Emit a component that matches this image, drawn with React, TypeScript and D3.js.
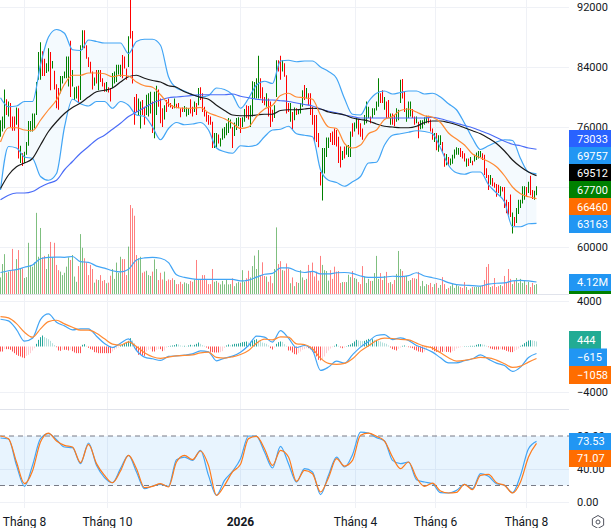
import React, { useEffect, useRef } from 'react';
import * as d3 from 'd3';

const WIDTH = 611;
const HEIGHT = 528;
const PLOT_RIGHT = 569;
const FONT = 'Roboto, sans-serif';

// Daily bars, prices in thousands
const highs = [
  76.9,77.4,81.0,79.7,79.4,79.2,77.4,77.4,78.6,78.5,73.5,72.5,72.7,74.0,76.8,76.8,77.8,77.8,82.0,86.0,
  87.3,86.1,85.1,84.5,86.5,86.0,84.8,83.5,81.7,81.2,82.8,82.8,83.4,85.4,85.4,87.5,83.6,81.3,81.4,81.5,
  86.9,88.9,88.9,86.9,85.3,84.7,83.4,82.6,83.6,83.6,83.6,82.5,81.9,82.0,81.3,81.2,83.2,83.4,84.3,84.3,
  84.3,85.6,85.4,83.8,88.1,93.5,88.8,80.0,80.4,79.8,79.4,79.6,78.7,80.3,80.5,80.7,79.4,80.7,81.5,81.0,
  79.8,78.5,78.9,79.6,79.8,79.2,78.9,79.8,79.1,79.2,78.5,78.6,78.8,78.6,78.5,79.7,78.7,79.4,79.2,81.2,
  81.3,80.5,78.7,78.0,77.6,77.4,76.7,75.2,75.2,75.0,74.5,75.8,76.0,76.5,77.2,77.0,76.0,76.6,77.2,77.3,
  77.2,77.3,78.4,78.9,78.8,78.9,82.1,82.0,82.5,85.5,82.5,81.3,80.0,80.5,79.8,79.4,78.3,78.9,84.9,84.9,
  85.5,84.9,84.5,82.9,79.2,79.2,78.0,78.6,78.5,78.3,79.2,80.9,81.6,81.2,80.5,80.5,78.7,77.6,77.6,75.2,
  70.0,73.2,73.2,74.6,74.6,75.2,75.4,75.8,75.6,74.7,73.4,72.8,73.4,73.5,73.6,75.4,76.5,76.6,77.2,77.0,
  76.5,75.8,77.6,79.4,78.7,77.4,78.5,78.5,79.4,82.5,80.5,80.9,80.0,79.4,79.6,77.8,77.8,77.6,78.5,78.3,
  82.3,82.4,80.7,78.5,79.4,79.4,78.4,77.4,77.4,76.7,76.9,76.9,77.3,77.5,77.5,77.0,75.8,75.2,75.2,74.9,
  74.9,74.0,72.5,72.4,72.0,71.8,72.3,73.0,73.3,73.2,73.2,72.8,72.5,71.8,71.8,72.0,71.5,72.3,72.6,72.8,
  72.8,72.5,72.3,70.5,69.6,69.6,69.2,68.6,68.4,68.3,68.1,68.0,68.0,66.3,66.0,67.0,64.6,64.0,65.2,66.3,
  66.3,68.1,68.1,68.0,68.7,69.5,67.6,67.5,68.1,
];
const lows = [
  74.7,75.4,75.8,77.6,77.4,76.0,75.5,75.5,76.3,71.8,71.2,70.8,71.2,72.3,73.5,75.4,75.4,75.8,77.6,82.3,
  82.3,82.8,82.8,83.2,83.4,80.9,83.8,81.0,78.5,78.3,80.5,81.8,82.5,82.5,81.4,80.0,81.4,79.6,79.8,79.2,
  79.6,86.3,86.5,85.1,84.0,83.2,81.0,81.5,81.8,80.9,82.0,81.4,80.7,80.7,80.6,79.4,81.2,81.8,82.0,83.0,
  82.7,82.5,83.8,82.3,84.0,87.8,81.8,76.3,78.0,77.6,75.8,77.6,76.3,77.6,77.4,77.8,75.2,74.5,77.6,78.7,
  76.5,76.0,77.0,78.0,78.7,78.6,78.4,78.5,78.5,78.5,77.3,78.0,78.0,77.4,77.6,77.8,77.4,78.0,77.6,78.9,
  79.6,78.0,77.4,76.7,76.3,76.3,73.2,73.2,73.2,73.8,73.4,74.3,74.5,74.9,75.2,75.8,73.2,74.8,75.6,76.1,
  75.2,76.0,76.7,77.2,77.0,76.0,77.4,79.8,79.8,79.8,79.8,79.2,78.9,78.7,77.4,76.0,76.7,77.2,80.0,83.4,
  82.3,83.4,82.7,77.8,78.0,76.7,75.7,76.9,77.6,77.7,77.8,78.7,79.6,79.8,78.9,77.6,76.3,74.0,74.0,73.3,
  68.2,66.2,69.8,72.0,73.2,74.0,73.6,73.6,73.4,71.2,70.6,71.6,71.8,72.3,72.0,72.0,74.7,75.4,75.8,75.0,
  74.7,74.3,76.3,76.5,77.2,76.5,77.2,77.6,78.2,78.7,79.2,79.2,78.3,77.2,77.2,76.3,76.3,76.1,76.7,76.9,
  79.2,79.8,78.0,76.7,77.2,77.4,77.2,76.3,76.5,74.5,75.7,75.8,76.3,76.5,76.5,75.4,74.3,74.0,72.9,72.7,
  73.6,72.7,70.7,70.9,70.9,70.9,71.1,71.8,72.3,72.3,72.0,71.8,71.4,70.7,70.8,71.2,70.9,71.4,71.6,71.8,
  72.0,71.6,69.6,69.2,67.6,68.3,68.1,67.9,66.7,67.2,66.7,67.4,65.2,64.5,64.3,64.0,61.8,62.8,63.2,64.4,
  65.2,65.8,66.3,66.7,67.2,66.9,66.4,66.3,66.9,
];
const barDirs =
  'GGGRGRRRGR' + 'GRGGGGGGGG' + 'GRRGGRGRRR' + 'GGGGGRGGGR' + 'GGRRRRRGRG' + 'RRRGRRGGGG' + 'GRRRGRRRRG' +
  'GRRGGGRGGR' + 'RRGRRRRGRR' + 'RRGGGRRGRG' + 'RRRRRRRGGR' + 'GGGGGGRGGG' + 'RGGRRGGGGG' + 'RRRGRRRGGR' +
  'RGRRRGRGRG' + 'GGRGRRRRRR' + 'RGGGGRRRRR' + 'RGRGGGRGGR' + 'RRGGGRGGGG' + 'RRGRRGRRGG' + 'GRRGGGRRGR' +
  'GGGGRRRGRG' + 'GRRGRGGGGG' + 'RRRGRGRGGG' + 'GRRRRGRRRR' + 'GRRRRRGRGG' + 'GGGRGRRGG';

// Volume in millions
const volumes = [
  5.7,10.3,13.7,7.3,7.7,7.9,15.5,8.2,12.0,15.1,8.8,8.8,5.5,5.8,17.6,10.0,9.4,10.9,27.9,12.8,
  22.7,12.6,13.1,8.6,13.7,17.9,12.6,17.6,10.0,8.2,7.7,6.5,7.3,9.4,12.6,11.7,13.4,6.0,4.2,9.6,
  20.6,15.9,12.3,10.8,6.5,10.0,8.6,3.9,5.0,4.8,6.5,4.5,4.8,3.7,3.9,6.3,8.6,5.2,10.8,7.3,
  12.8,12.0,12.0,6.5,16.3,30.6,29.5,26.9,13.4,12.3,12.8,7.3,7.7,8.0,6.5,6.2,7.7,11.9,8.6,4.8,
  7.3,5.0,7.7,4.5,5.0,4.8,5.4,4.8,3.4,3.4,4.2,3.4,4.0,3.7,3.4,4.5,4.2,5.0,11.7,5.0,
  5.0,6.5,6.5,4.8,3.4,3.4,8.6,4.2,4.5,3.9,3.3,4.5,3.3,5.0,3.3,3.4,5.4,2.7,3.7,4.2,
  3.9,8.2,4.2,5.4,8.0,5.7,9.6,13.2,8.6,15.1,6.5,10.9,6.2,6.0,4.2,6.2,3.7,8.6,22.9,10.3,
  11.3,8.2,8.0,10.5,8.8,3.7,5.7,2.7,4.1,3.8,8.2,5.7,4.8,5.2,10.0,7.7,10.8,6.0,7.7,4.6,
  13.1,10.0,8.2,7.9,4.6,8.2,5.2,9.4,7.7,7.9,3.8,4.1,4.1,4.1,6.6,5.8,7.9,5.5,5.2,4.1,
  3.4,9.6,6.0,3.8,5.2,4.5,4.5,7.2,13.1,5.2,7.2,4.8,6.2,7.6,3.8,4.1,3.4,4.8,6.9,14.8,
  8.6,7.9,6.2,6.2,4.5,4.8,5.5,5.4,5.2,7.6,2.7,4.5,2.7,3.4,3.1,3.8,2.4,3.4,3.8,2.1,
  3.1,5.8,3.4,1.7,2.1,2.7,3.4,2.1,3.1,2.7,2.4,2.1,4.1,2.4,1.4,1.9,2.4,2.4,2.4,2.4,
  2.7,3.1,4.8,9.3,10.3,2.4,2.7,5.5,2.4,2.7,3.1,2.7,6.2,4.1,8.6,5.2,3.4,4.5,5.5,3.8,
  5.2,3.8,4.5,3.1,4.2,2.4,3.8,3.1,3.4,
];

// Indicator lines
const LINE_STEP = 4;
const bbUpper = [
  79.9,78.7,78.8,79.4,79.4,84.3,88.0,89.0,88.5,86.3,86.2,87.6,87.4,87.2,87.2,87.2,85.8,87.4,87.7,87.7,86.9,82.7,81.2,80.8,80.3,
  80.0,80.2,81.2,81.0,80.3,78.5,79.8,81.6,82.1,81.8,84.8,84.9,84.7,84.8,84.8,84.0,83.4,82.5,79.8,77.7,77.6,79.4,80.5,80.8,
  80.4,80.6,80.8,80.8,80.4,80.5,80.0,79.1,78.3,76.5,74.5,73.0,73.5,74.0,74.3,74.2,71.8,70.0,69.76,
];
const bbLower = [
  67.6,73.4,73.2,72.0,71.8,69.4,68.9,69.8,76.0,79.7,79.1,78.8,79.4,79.4,78.5,79.4,78.9,77.6,77.4,76.0,74.3,75.8,76.6,76.3,76.4,
  76.6,75.6,73.2,72.7,72.5,73.5,73.4,73.6,74.7,75.6,75.7,76.1,75.1,74.9,74.7,70.3,68.9,68.6,68.1,68.7,69.4,71.2,71.3,73.6,
  74.9,75.1,75.3,75.5,75.4,75.1,73.2,70.9,69.9,69.7,70.0,70.0,68.3,67.2,66.0,62.7,62.7,63.1,63.16,
];
const maOrange = [
  74.0,75.9,75.9,75.6,75.5,76.9,78.3,79.6,81.7,82.9,82.9,83.2,83.2,83.1,82.7,82.9,82.8,82.0,81.5,81.3,80.3,79.1,78.6,78.5,78.5,
  78.6,77.9,77.5,77.1,76.5,75.8,76.0,77.4,78.4,78.9,80.2,80.5,80.0,79.9,79.7,77.6,76.0,75.8,73.8,73.2,73.6,75.1,75.6,77.0,
  77.4,78.2,78.4,78.0,77.5,77.3,76.6,75.2,74.4,73.6,72.4,71.9,71.4,70.7,69.5,68.0,67.1,66.7,66.46,
];
const maBlack = [
  67.8,69.6,70.7,71.2,71.8,73.6,75.4,76.7,77.8,78.6,79.2,80.0,80.7,80.9,81.2,82.0,82.7,82.9,82.5,82.2,82.0,81.5,81.3,80.7,80.3,
  79.95,79.7,78.9,78.2,77.6,77.5,77.5,77.6,77.7,77.7,78.2,78.3,78.3,78.4,78.5,78.4,78.0,77.8,77.6,77.2,77.0,76.8,76.4,76.1,
  76.0,75.9,75.9,76.1,76.6,76.8,76.8,76.6,76.3,75.9,75.5,75.1,74.5,73.8,72.8,71.6,70.7,70.0,69.51,
];
const maBlue = [
  66.3,66.9,67.2,67.2,67.4,68.0,68.5,68.9,70.3,71.4,72.5,73.4,74.3,74.9,75.7,76.5,77.4,78.0,78.6,79.2,79.6,79.9,80.0,80.1,80.2,
  80.3,80.3,80.3,80.3,80.4,80.1,79.9,79.7,79.6,79.6,79.5,79.4,79.2,79.0,78.8,78.4,78.1,77.9,77.6,77.4,77.2,77.2,77.2,77.2,
  77.2,77.2,77.2,77.2,77.2,77.3,77.1,76.8,76.5,76.2,75.9,75.5,75.1,74.6,74.1,73.7,73.5,73.2,73.03,
];
const volumeMa = [
  7.4,8.0,8.4,9.2,10.0,12.1,12.6,12.7,12.6,12.9,11.1,10.9,9.6,8.9,8.0,7.6,8.5,11.7,12.4,12.6,12.3,10.8,6.6,5.7,5.2,5.0,5.0,5.0,5.0,5.0,4.5,4.8,5.8,6.8,7.1,9.0,9.0,7.9,
  7.4,7.8,6.9,6.9,7.3,7.4,7.1,6.2,5.7,5.7,5.8,6.1,6.0,6.3,7.3,6.2,5.6,5.0,3.9,3.2,3.0,2.9,2.7,3.4,3.7,3.8,4.5,4.7,4.5,4.12,
];
const macdLine = [
  2394,2248,1489,467,730,2365,2862,2132,1810,1460,1548,1548,905,263,-88,292,672,-350,-934,-1080,-1226,-876,-818,-759,-642,-380,-467,-1256,-1022,-847,-496,88,905,818,380,1402,730,-88,
  88,-350,-2102,-1810,-1285,-1460,-730,-58,438,964,1051,613,759,526,88,-175,-496,-993,-1431,-1431,-1256,-1080,-730,-1110,-1460,-1664,-2190,-1810,-964,-615,
];
const signalLine = [
  2628,2511,2015,1256,818,1548,2190,2307,1986,1694,1431,1431,1168,672,204,117,409,0,-555,-905,-1051,-934,-818,-788,-730,-555,-496,-964,-1022,-905,-700,-350,292,642,584,847,818,234,
  175,-204,-1022,-1489,-1577,-1489,-1080,-409,58,526,730,701,613,584,292,29,-146,-555,-993,-1285,-1226,-1080,-964,-993,-1197,-1518,-1840,-1723,-1372,-1058,
];
const macdHist = [
  -440,-440,-235,-235,-235,-290,-440,-585,-730,-820,-875,-965,-1020,-820,-730,-585,-350,-150,235,585,
  820,965,820,730,640,495,290,120,-60,-350,-380,-290,-290,-290,-350,-290,-410,-525,-585,-585,
  -585,150,205,60,-120,-235,-290,-495,-525,-585,-585,-585,-585,-585,-585,-585,-440,-290,-175,-90,
  90,150,290,350,495,730,525,290,-350,-730,-730,-790,-820,-440,-290,-235,-440,-440,-290,-235,
  -235,-410,-350,-90,30,60,90,120,205,175,90,60,60,30,90,150,120,150,235,350,
  235,120,60,-90,-205,-470,-495,-525,-525,-525,-495,-410,-120,90,175,120,175,235,235,265,
  320,380,410,440,350,410,525,585,640,525,470,350,290,235,90,-150,-265,-90,235,380,
  440,410,205,60,-350,-350,-525,-670,-700,-585,-440,-290,-235,-150,-150,-235,-440,-585,-875,-1170,
  -1225,-1110,-875,-585,-350,-175,-60,60,205,60,-90,-150,-90,30,120,175,290,440,585,525,
  495,470,495,585,670,585,640,585,585,495,440,350,290,235,90,-90,-235,-290,-350,-205,
  -90,60,90,30,-60,-90,-150,-290,-350,-440,-470,-525,-440,-235,-90,-90,-290,-410,-470,-410,
  -470,-470,-440,-470,-470,-525,-410,-380,-175,-120,-60,-30,30,30,30,60,60,60,150,205,
  205,175,150,60,-60,-175,-235,-265,-265,-265,-235,-265,-290,-380,-440,-495,-495,-410,-290,-175,
  60,150,290,410,525,555,525,495,444,
];
const stochK = [
  77.6,76.4,44.4,19.0,44.4,76.8,82.8,75.5,66.7,65.9,46.5,71.5,44.4,29.5,23.4,40.4,56.6,36.4,16.2,19.4,21.4,19.0,51.3,54.5,50.5,62.6,32.3,8.1,26.3,37.2,52.5,80.0,79.6,60.6,41.2,67.5,46.5,24.2,
  40.4,36.4,8.9,32.3,54.5,42.4,57.4,84.8,83.6,78.0,73.9,50.5,46.5,48.5,27.1,24.2,22.2,11.3,10.9,14.1,21.4,16.2,34.3,31.1,22.2,20.2,11.3,32.3,64.6,73.53,
];
const stochD = [
  80.0,76.8,48.5,22.2,37.6,72.7,83.6,73.9,68.7,66.7,47.7,69.9,46.5,32.3,23.4,37.6,56.6,40.4,17.4,19.0,22.2,18.2,48.5,56.6,51.3,61.8,44.4,8.1,20.2,36.4,45.7,76.8,79.6,64.6,44.4,62.6,54.5,25.0,
  38.4,34.3,12.1,29.5,52.5,43.6,50.5,80.8,83.6,79.6,73.9,54.5,40.4,48.5,29.5,19.0,23.0,13.3,10.9,11.7,21.4,14.9,32.3,33.5,23.4,20.2,10.9,24.2,54.5,71.07,
];

// Axis labels
const priceGridTicks = [92, 84, 76, 68, 60];
const priceLabelTicks = [92, 84, 76, 60];
const macdTicks = [4000, -4000];
const stochGridTicks = [40, 0];
const stochLabelTicks = [80, 40, 0];
const stochBands = [80, 20];
const timeIndex = [12, 53.5, 120, 177.5, 217.5, 263];
const timeLabels = ['Tháng 8', 'Tháng 10', '2026', 'Tháng 4', 'Tháng 6', 'Tháng 8'];

// Price scale tags on the right
const priceTagText = ['73033', '69757', '69512', '67700', '66460', '63163'];
const priceTagFill = ['#2962ff', '#2196f3', '#000000', '#008000', '#ff6d00', '#2196f3'];
const macdTagText = ['444', '−615', '−1058'];
const macdTagFill = ['#22ab94', '#2196f3', '#ff6d00'];
const macdTagWidth = [32, 38, 42];
const stochTagText = ['73.53', '71.07'];
const stochTagFill = ['#2196f3', '#ff6d00'];

const App: React.FC = () => {
  const svgRef = useRef<SVGSVGElement>(null);

  useEffect(() => {
    if (!svgRef.current) return;
    const svg = d3.select(svgRef.current);
    svg.selectAll('*').remove();

    const x = d3.scaleLinear().domain([0, 268]).range([0.5, 536.5]);
    const priceY = d3.scaleLinear().domain([60, 92]).range([247, 7]);
    const volY = d3.scaleLinear().domain([0, 30.6]).range([294, 205]);
    const macdY = d3.scaleLinear().domain([-4000, 4000]).range([392, 301]);
    const stochY = d3.scaleLinear().domain([0, 80]).range([502, 436]);

    const clipId = 'plot-clip';
    svg.append('clipPath').attr('id', clipId)
      .append('rect').attr('width', PLOT_RIGHT).attr('height', 508);

    // Grid
    const grid = svg.append('g').attr('stroke', '#eff1f6').attr('stroke-width', 1);
    const hGrid = [
      ...priceGridTicks.map(d => priceY(d)),
      ...macdTicks.map(d => macdY(d)),
      ...stochGridTicks.map(d => stochY(d)),
    ];
    grid.selectAll('line.h').data(hGrid).enter().append('line')
      .attr('x1', 0).attr('x2', PLOT_RIGHT)
      .attr('y1', d => d + 0.5).attr('y2', d => d + 0.5);
    grid.selectAll('line.v').data(timeIndex).enter().append('line')
      .attr('x1', d => x(d)).attr('x2', d => x(d))
      .attr('y1', 0).attr('y2', 508);

    svg.append('g').attr('stroke', '#e0e3eb')
      .selectAll('line').data([294.5, 409.5]).enter().append('line')
      .attr('x1', 0).attr('x2', PLOT_RIGHT)
      .attr('y1', d => d).attr('y2', d => d);

    const plot = svg.append('g').attr('clip-path', `url(#${clipId})`);

    // Volume
    plot.append('g').selectAll('rect').data(volumes).enter().append('rect')
      .attr('x', (_, i) => x(i) - 0.5)
      .attr('width', 1)
      .attr('y', d => volY(d))
      .attr('height', d => 294 - volY(d))
      .attr('fill', (_, i) => barDirs[i] === 'G' ? '#008000' : '#ff0000')
      .attr('fill-opacity', 0.5);

    const lineX = (_: number, i: number) => x(i * LINE_STEP);
    const drawLine = (values: number[], y: d3.ScaleLinear<number, number>, color: string, w = 1.2) => {
      const gen = d3.line<number>().x(lineX).y(d => y(d)).curve(d3.curveMonotoneX);
      plot.append('path').attr('d', gen(values))
        .attr('fill', 'none').attr('stroke', color).attr('stroke-width', w);
    };

    drawLine(volumeMa, volY, '#42a5f5');

    // Bollinger band fill
    const bandArea = d3.area<number>()
      .x(lineX)
      .y0((_, i) => priceY(bbLower[i]))
      .y1(d => priceY(d))
      .curve(d3.curveMonotoneX);
    plot.append('path').attr('d', bandArea(bbUpper))
      .attr('fill', '#2196f3').attr('fill-opacity', 0.05);

    // High-low bars
    plot.append('g').selectAll('line').data(highs).enter().append('line')
      .attr('x1', (_, i) => x(i)).attr('x2', (_, i) => x(i))
      .attr('y1', d => priceY(d))
      .attr('y2', (_, i) => priceY(lows[i]))
      .attr('stroke', (_, i) => barDirs[i] === 'G' ? '#008000' : '#ff0000')
      .attr('stroke-width', 1);

    drawLine(bbUpper, priceY, '#42a5f5');
    drawLine(bbLower, priceY, '#42a5f5');
    drawLine(maBlue, priceY, '#4a6cf7');
    drawLine(maBlack, priceY, '#1a1a1a');
    drawLine(maOrange, priceY, '#ff8a33');

    // MACD
    plot.append('g').selectAll('rect').data(macdHist).enter().append('rect')
      .attr('x', (_, i) => x(i) - 0.5)
      .attr('width', 1)
      .attr('y', d => Math.min(macdY(d), macdY(0)))
      .attr('height', d => Math.abs(macdY(d) - macdY(0)))
      .attr('fill', (d, i) => {
        const prev = i > 0 ? macdHist[i - 1] : d;
        if (d >= 0) return d >= prev ? '#26a69a' : '#b2dfdb';
        return d <= prev ? '#ff5252' : '#ffcdd2';
      });
    drawLine(macdLine, macdY, '#42a5f5');
    drawLine(signalLine, macdY, '#ff8a33');

    // Stochastic
    plot.append('rect')
      .attr('x', 0).attr('width', PLOT_RIGHT)
      .attr('y', stochY(stochBands[0]))
      .attr('height', stochY(stochBands[1]) - stochY(stochBands[0]))
      .attr('fill', '#2196f3').attr('fill-opacity', 0.1);
    plot.append('g').selectAll('line').data(stochBands).enter().append('line')
      .attr('x1', 0).attr('x2', PLOT_RIGHT)
      .attr('y1', d => stochY(d)).attr('y2', d => stochY(d))
      .attr('stroke', '#787b86').attr('stroke-dasharray', '5 4');
    drawLine(stochK, stochY, '#42a5f5');
    drawLine(stochD, stochY, '#ff7a1a');

    // Right scale labels
    const rightAxis = (y: d3.ScaleLinear<number, number>, ticks: number[], fmt: (d: number) => string) => {
      const g = svg.append('g')
        .attr('transform', `translate(${PLOT_RIGHT + 8},0)`)
        .call(d3.axisRight(y).tickValues(ticks).tickSize(0).tickPadding(0).tickFormat(d => fmt(+d)) as any);
      g.select('.domain').remove();
      g.selectAll('text')
        .attr('font-family', FONT).attr('font-size', 11).attr('fill', '#131722');
    };
    rightAxis(priceY, priceLabelTicks, d => `${d * 1000}`);
    rightAxis(macdY, macdTicks, d => `${d}`.replace('-', '−'));
    rightAxis(stochY, stochLabelTicks, d => d.toFixed(2));

    const tag = (text: string, fill: string, top: number, h: number, w: number) => {
      svg.append('rect').attr('x', PLOT_RIGHT).attr('y', top).attr('width', w).attr('height', h).attr('fill', fill);
      svg.append('text').attr('x', PLOT_RIGHT + 8).attr('y', top + h / 2).attr('dy', '0.36em')
        .attr('font-family', FONT).attr('font-size', 11).attr('fill', '#ffffff').text(text);
    };
    priceTagText.forEach((t, i) => tag(t, priceTagFill[i], 130 + i * 17, 18, 42));
    svg.append('rect').attr('x', PLOT_RIGHT).attr('y', 289).attr('width', 42).attr('height', 5).attr('fill', '#008000');
    tag('4.12M', '#2196f3', 274, 17, 42);
    macdTagText.forEach((t, i) => tag(t, macdTagFill[i], 331 + i * 17.5, 18, macdTagWidth[i]));
    stochTagText.forEach((t, i) => tag(t, stochTagFill[i], 433 + i * 17, 17, 42));

    // Time axis
    svg.append('g').selectAll('text').data(timeLabels).enter().append('text')
      .attr('x', (_, i) => x(timeIndex[i]))
      .attr('y', 526)
      .attr('text-anchor', 'middle')
      .attr('font-family', FONT)
      .attr('font-size', 12)
      .attr('font-weight', d => d === '2026' ? 700 : 400)
      .attr('fill', '#131722')
      .text(d => d);

    // Settings icon
    const hex = d3.lineRadial<number>().angle(d => d).radius(6.5).curve(d3.curveLinearClosed);
    const gear = svg.append('g').attr('transform', 'translate(598,522)')
      .attr('fill', 'none').attr('stroke', '#50535e').attr('stroke-width', 1);
    gear.append('path').attr('d', hex(d3.range(6).map(k => k * Math.PI / 3)));
    gear.append('circle').attr('r', 2);
  }, []);

  return (
    <svg
      ref={svgRef}
      width={WIDTH}
      height={HEIGHT}
      style={{ position: 'absolute', left: 0, top: 0, display: 'block', background: 'white' }}
    />
  );
};

export default App;
